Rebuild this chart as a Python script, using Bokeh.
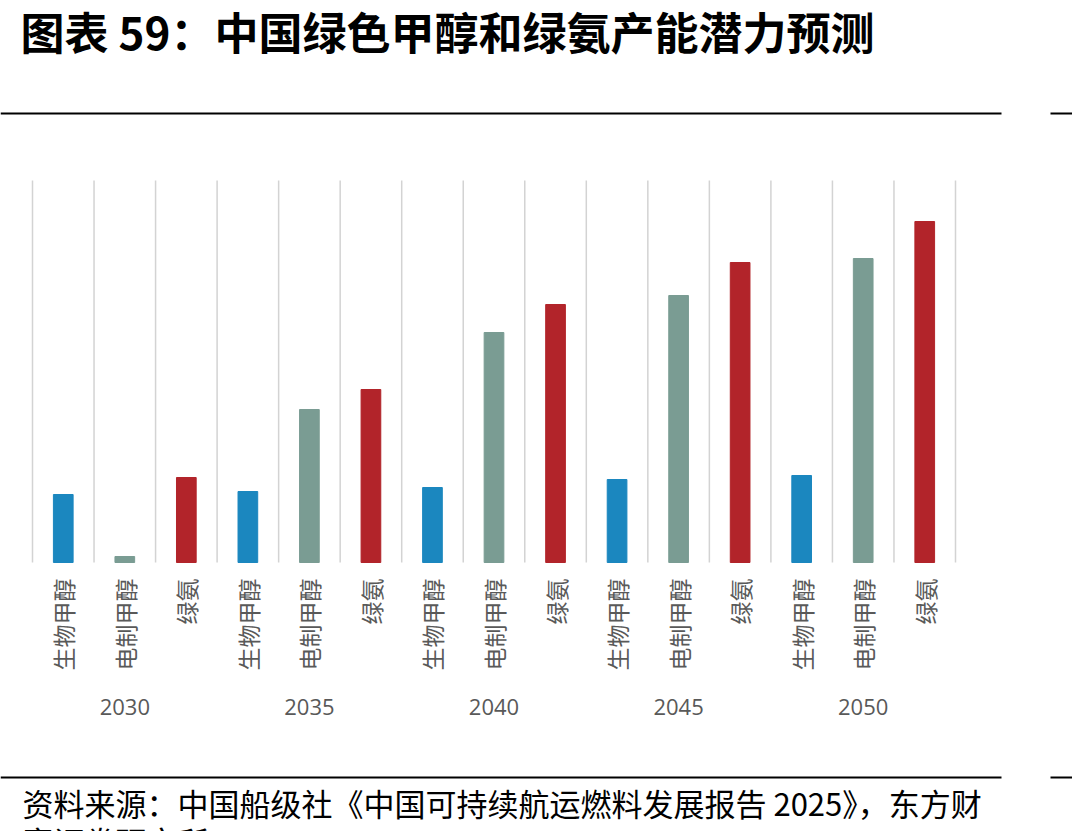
import math

from bokeh.core.properties import value
from bokeh.embed import file_html
from bokeh.models import BoxAnnotation, ColumnDataSource, Label, Range1d
from bokeh.plotting import figure
from bokeh.resources import INLINE

# Projected capacity potential, by year and fuel type
years = ["2030", "2035", "2040", "2045", "2050"]
fuels = ["生物甲醇", "电制甲醇", "绿氨"]
bio_methanol = [6.8, 7.1, 7.5, 8.3, 8.7]
e_methanol = [0.6, 15.3, 23.0, 26.7, 30.4]
green_ammonia = [8.5, 17.3, 25.8, 30.0, 34.1]
fuel_colors = ["#1b87bf", "#7a9c93", "#b2242a"]

title_text = "图表 59：中国绿色甲醇和绿氨产能潜力预测"
source_lines = [
    "资料来源：中国船级社《中国可持续航运燃料发展报告 2025》，东方财",
    "富证券研究所",
]

# Canvas geometry (pixels)
W, H = 1072, 831
FRAME_LEFT, FRAME_RIGHT = 32, 955
BASE_Y, GRID_TOP = 562, 180
PX_PER_UNIT = 10.0

n_cat = len(years) * len(fuels)
cat_px = (FRAME_RIGHT - FRAME_LEFT) / n_cat
x_start = -FRAME_LEFT / cat_px - 0.5
x_end = x_start + W / cat_px
y_end = BASE_Y / PX_PER_UNIT
y_start = y_end - H / PX_PER_UNIT

series = [bio_methanol, e_methanol, green_ammonia]
xs, tops, colors, names = [], [], [], []
for yi, _ in enumerate(years):
    for fi, fuel in enumerate(fuels):
        xs.append(yi * len(fuels) + fi)
        tops.append(series[fi][yi])
        colors.append(fuel_colors[fi])
        names.append(fuel)
bars = ColumnDataSource(dict(x=xs, top=tops, color=colors, name=names))

p = figure(
    width=W, height=H,
    x_range=Range1d(x_start, x_end), y_range=Range1d(y_start, y_end),
    output_backend="svg", toolbar_location=None,
    min_border=0, min_border_left=0, min_border_right=0,
    min_border_top=0, min_border_bottom=0,
)
p.axis.visible = False
p.grid.visible = False
p.outline_line_color = None
p.background_fill_color = "white"
p.border_fill_color = "white"

# vertical separators between categories
grid_x = [i - 0.5 for i in range(n_cat + 1)]
grid_top = (BASE_Y - GRID_TOP) / PX_PER_UNIT
p.segment(x0=grid_x, y0=[0] * len(grid_x), x1=grid_x, y1=[grid_top] * len(grid_x),
          line_color="#d3d3d3", line_width=1.5)

p.vbar(x="x", top="top", bottom=0, width=0.32, color="color", source=bars)

# vertical category labels under each bar
p.text(x="x", y=-1.6, text="name", source=bars, angle=math.pi / 2,
       text_align="right", text_baseline="middle",
       text_font=value("Noto Sans CJK SC"), text_font_size="23px",
       text_color="#595959")

# year group labels
group_x = [yi * len(fuels) + 1 for yi in range(len(years))]
p.text(x=group_x, y=[-14.4] * len(years), text=years,
       text_align="center", text_baseline="middle",
       text_font=value("Open Sans"), text_font_size="22px",
       text_color="#595959")

p.add_layout(Label(x=20, y=H - 30, x_units="screen", y_units="screen",
                   text=title_text, text_baseline="middle",
                   text_font="Noto Sans CJK SC", text_font_style="bold",
                   text_font_size="44px", text_color="#000000"))

for k, line in enumerate(source_lines):
    p.add_layout(Label(x=22, y=H - 802 - 38 * k, x_units="screen", y_units="screen",
                       text=line, text_baseline="middle",
                       text_font="Noto Sans CJK SC", text_font_size="31px",
                       text_color="#000000"))

# horizontal rules framing the figure
for top_px in (113, 777):
    p.add_layout(BoxAnnotation(left=0, right=1001, top=H - top_px + 1, bottom=H - top_px - 1,
                               left_units="screen", right_units="screen",
                               top_units="screen", bottom_units="screen",
                               fill_color="black", fill_alpha=1, line_color=None))
    p.add_layout(BoxAnnotation(left=1050, right=W, top=H - top_px + 1, bottom=H - top_px - 1,
                               left_units="screen", right_units="screen",
                               top_units="screen", bottom_units="screen",
                               fill_color="black", fill_alpha=1, line_color=None))

open("out.html", "w").write(file_html(p, INLINE))
